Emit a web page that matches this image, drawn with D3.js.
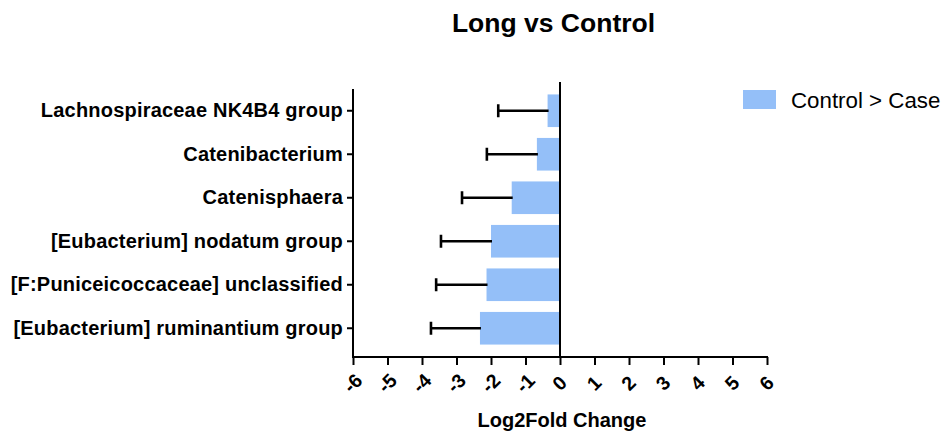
<!DOCTYPE html>
<html>
<head>
<meta charset="utf-8">
<script src="https://cdn.jsdelivr.net/npm/d3@7"></script>
<style>
  html, body { margin: 0; padding: 0; background: #fff; }
  svg { display: block; font-family: "Liberation Sans", Arial, Helvetica, sans-serif; }
</style>
</head>
<body>
<svg id="chart" width="945" height="438"></svg>
<script>
// Genera with lower abundance in the long group (Control > Case)
const categories = [
  "Lachnospiraceae NK4B4 group",
  "Catenibacterium",
  "Catenisphaera",
  "[Eubacterium] nodatum group",
  "[F:Puniceicoccaceae] unclassified",
  "[Eubacterium] ruminantium group"
];
const log2FoldChange = [-0.36, -0.67, -1.40, -2.00, -2.13, -2.32];
const errorSize = [1.43, 1.45, 1.44, 1.45, 1.46, 1.42];
const xTickValues = [-6, -5, -4, -3, -2, -1, 0, 1, 2, 3, 4, 5, 6];
const seriesName = "Control > Case";
const chartTitle = "Long vs Control";
const xAxisTitle = "Log2Fold Change";

const rows = categories.map((c, i) => ({ name: c, value: log2FoldChange[i], err: errorSize[i] }));

const svg = d3.select("#chart");
const barColor = "#94bff8";

const x = d3.scaleLinear().domain([-6, 6]).range([353, 767]);
const y = d3.scaleBand().domain(categories).range([89, 350]).paddingInner(0.25).paddingOuter(0.125);
const axisY = 357;

// Bars
svg.append("g").selectAll("rect").data(rows).join("rect")
  .attr("x", d => x(d.value))
  .attr("y", d => y(d.name))
  .attr("width", d => x(0) - x(d.value))
  .attr("height", y.bandwidth())
  .attr("fill", barColor);

// Error bars (one-sided, away from zero)
const eb = svg.append("g").attr("stroke", "#000").attr("stroke-width", 2.6);
eb.selectAll("line.stem").data(rows).join("line").attr("class", "stem")
  .attr("x1", d => x(d.value) + 1)
  .attr("x2", d => x(d.value - d.err))
  .attr("y1", d => y(d.name) + y.bandwidth() / 2)
  .attr("y2", d => y(d.name) + y.bandwidth() / 2);
eb.selectAll("line.cap").data(rows).join("line").attr("class", "cap")
  .attr("x1", d => x(d.value - d.err))
  .attr("x2", d => x(d.value - d.err))
  .attr("y1", d => y(d.name) + y.bandwidth() / 2 - 6.5)
  .attr("y2", d => y(d.name) + y.bandwidth() / 2 + 6.5);

// Zero reference line
svg.append("line")
  .attr("x1", x(0)).attr("x2", x(0))
  .attr("y1", 82).attr("y2", axisY)
  .attr("stroke", "#000").attr("stroke-width", 2);

// Y axis
const gy = svg.append("g").attr("transform", `translate(${x(-6)},0)`)
  .call(d3.axisLeft(y).tickSize(6).tickPadding(4).tickSizeOuter(0));
gy.select(".domain").remove();
gy.append("line").attr("x1", 0).attr("x2", 0).attr("y1", 89).attr("y2", axisY + 1)
  .attr("stroke", "#000").attr("stroke-width", 2);
gy.selectAll(".tick line").attr("stroke", "#000").attr("stroke-width", 2);
gy.selectAll(".tick text")
  .attr("fill", "#000")
  .style("font-family", "'Liberation Sans', Arial, sans-serif")
  .style("font-size", "20px")
  .style("font-weight", "bold")
  .style("letter-spacing", "0.2px");

// X axis
const gx = svg.append("g").attr("transform", `translate(0,${axisY})`)
  .call(d3.axisBottom(x).tickValues(xTickValues).tickSize(8).tickSizeOuter(0).tickFormat(d3.format("d")));
gx.select(".domain").attr("stroke", "#000").attr("stroke-width", 2)
  .attr("d", `M${x(-6) - 1},0H${x(6) + 1}`);
gx.selectAll(".tick line").attr("stroke", "#000").attr("stroke-width", 2);
gx.selectAll(".tick text")
  .attr("fill", "#000")
  .attr("y", 0).attr("dy", 0)
  .attr("text-anchor", "middle")
  .attr("dominant-baseline", "central")
  .attr("transform", "translate(-1,26) rotate(-45)")
  .style("font-family", "'Liberation Sans', Arial, sans-serif")
  .style("font-size", "19.5px")
  .style("font-weight", "bold")
  .text(d => d < 0 ? "-" + Math.abs(d) : String(d));

// Titles
svg.append("text")
  .attr("x", 553.5).attr("y", 32)
  .attr("text-anchor", "middle")
  .style("font-size", "26.5px").style("font-weight", "bold")
  .text(chartTitle);

svg.append("text")
  .attr("x", 562).attr("y", 427)
  .attr("text-anchor", "middle")
  .style("font-size", "20px").style("font-weight", "bold")
  .text(xAxisTitle);

// Legend
const lg = svg.append("g");
lg.append("rect").attr("x", 743).attr("y", 90).attr("width", 33).attr("height", 19).attr("fill", barColor);
lg.append("text").attr("x", 791).attr("y", 107.5)
  .style("font-size", "22.3px")
  .text(seriesName);
</script>
</body>
</html>
